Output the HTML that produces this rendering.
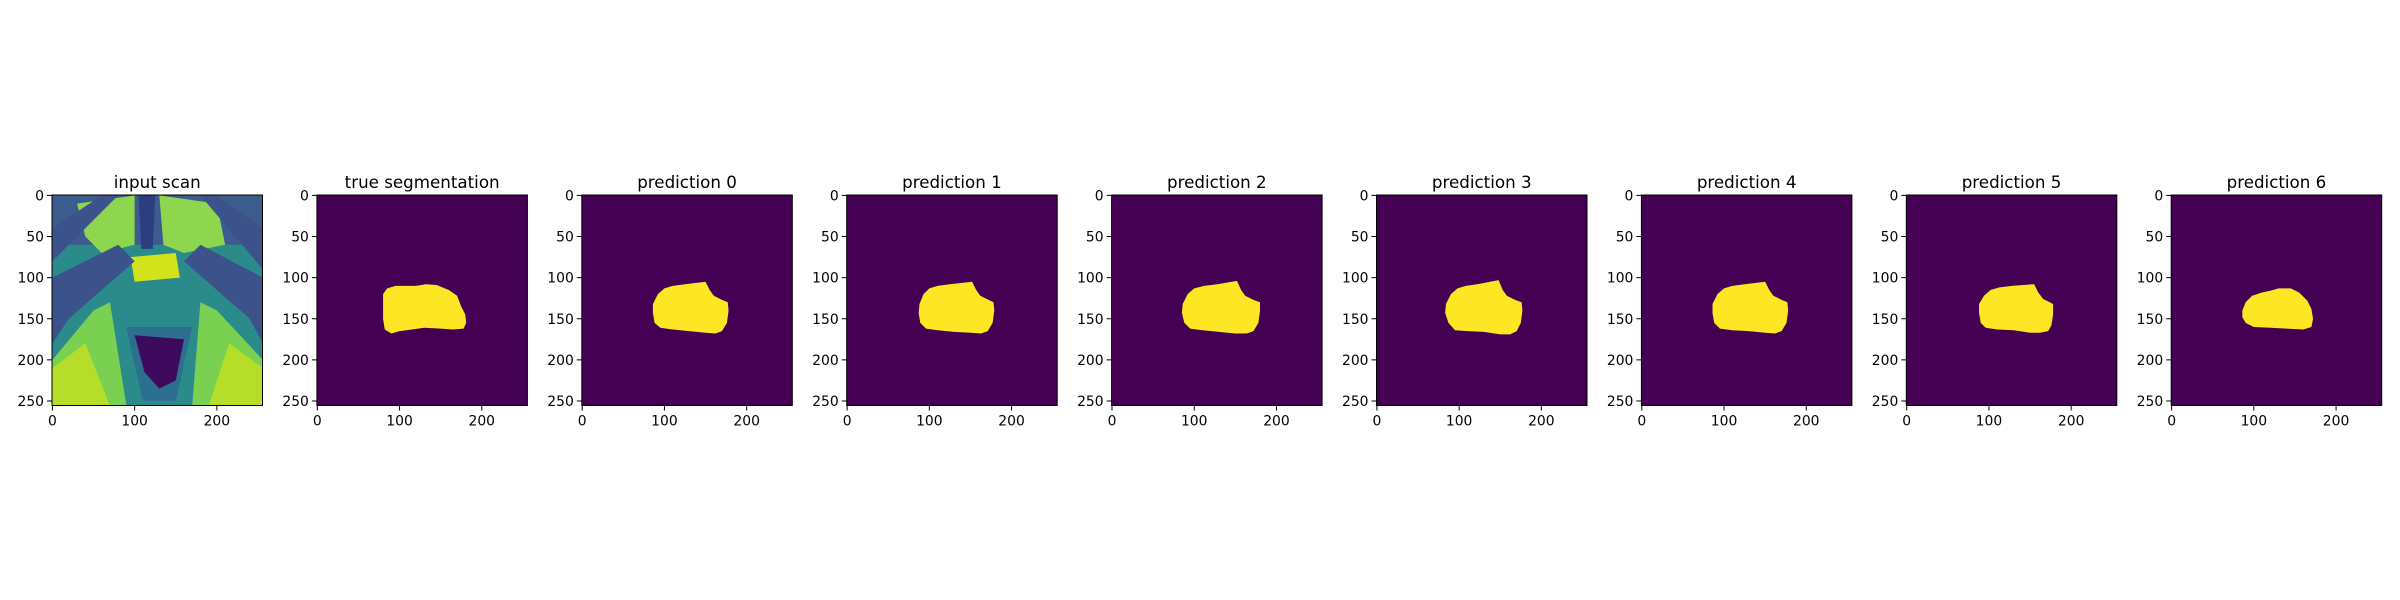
<!DOCTYPE html>
<html><head><meta charset="utf-8"><style>
html,body{margin:0;padding:0;background:#fff;width:2400px;height:600px;overflow:hidden}
svg{display:block;font-family:"DejaVu Sans","Liberation Sans",sans-serif}
</style></head><body>
<svg id="fig" width="2400" height="600" viewBox="0 0 2400 600" xmlns="http://www.w3.org/2000/svg"></svg>
<script>
const titles = ["input scan","true segmentation","prediction 0","prediction 1","prediction 2","prediction 3","prediction 4","prediction 5","prediction 6"];
const xTicks = [0,100,200];
const yTicks = [0,50,100,150,200,250];
const maskTrue = [[80,120],[85,113],[95,110],[120,110],[132,108],[145,109],[160,115],[170,122],[175,135],[180,145],[181,155],[178,162],[165,163],[150,162],[130,161],[115,163],[100,165],[90,168],[82,163],[80,150]];
const mask0 = [[86,132],[92,120],[100,113],[110,110],[125,108],[150,105],[155,115],[160,122],[170,127],[177,130],[178,140],[176,155],[170,165],[162,168],[150,167],[130,165],[110,163],[95,161],[88,155],[86,143]];
const mask1 = [[88,132],[93,120],[100,113],[110,110],[125,108],[152,105],[157,115],[162,122],[172,127],[178,130],[179,140],[177,155],[171,165],[163,168],[150,167],[130,166],[110,164],[96,162],[89,155],[87,143]];
const mask2 = [[86,132],[92,120],[100,113],[112,110],[128,108],[152,104],[157,115],[162,122],[172,127],[180,130],[180,140],[178,155],[172,165],[164,168],[150,168],[130,166],[110,164],[95,162],[88,155],[85,143]];
const mask3 = [[84,132],[90,120],[98,113],[108,110],[122,108],[148,103],[153,115],[158,122],[168,127],[176,130],[177,140],[175,155],[170,165],[162,169],[150,169],[130,166],[110,165],[95,164],[87,155],[83,143]];
const mask4 = [[86,132],[92,120],[100,113],[110,110],[125,108],[150,105],[155,115],[160,122],[170,127],[177,130],[178,140],[176,155],[170,165],[162,168],[150,167],[130,165],[110,164],[95,162],[88,155],[86,143]];
const mask5 = [[88,132],[94,122],[102,115],[112,112],[128,110],[155,108],[160,118],[166,126],[174,130],[178,132],[178,145],[176,158],[172,165],[162,167],[150,167],[130,164],[110,163],[96,161],[90,155],[88,143]];
const mask6 = [[86,140],[90,130],[98,122],[110,118],[120,116],[130,113],[145,113],[155,118],[165,128],[170,138],[172,150],[170,160],[160,163],[140,162],[120,161],[100,160],[90,155],[86,148]];
const masks = [null, maskTrue, mask0, mask1, mask2, mask3, mask4, mask5, mask6];

const NS = "http://www.w3.org/2000/svg";
const fig = document.getElementById('fig');
const AX0 = 52, AXSTEP = 264.9, AXW = 210.5, AXTOP = 195, AXH = 210.5;
function mk(tag, attrs, parent){const e=document.createElementNS(NS,tag);for(const k in attrs)e.setAttribute(k,attrs[k]);(parent||fig).appendChild(e);return e;}

titles.forEach((t,i)=>{
  const L = AX0 + i*AXSTEP;
  const sx = v => L + (v+0.5)/256*AXW;
  const sy = v => AXTOP + (v+0.5)/256*AXH;
  const g = mk('g',{});
  
  
  const bg = mk('rect',{x:L,y:AXTOP,width:AXW,height:AXH,fill:i===0?'#2b8a8a':'#440154'},g);
  
  
  if(i===0){
    const shapes = [
      ['#3b5c8c',[[0,0],[256,0],[256,60],[0,60]]],
      ['#8fd64f',[[30,10],[100,0],[100,60],[60,70],[40,50]]],
      ['#8fd64f',[[130,0],[200,10],[210,60],[160,70],[135,60]]],
      ['#3b528b',[[0,40],[60,0],[80,0],[0,80]]],
      ['#3b528b',[[256,40],[200,0],[180,0],[256,90]]],
      ['#2c3e7f',[[105,0],[125,0],[122,65],[108,65]]],
      ['#d2e21b',[[95,75],[150,70],[155,100],[100,105]]],
      ['#3b528b',[[0,100],[80,60],[100,80],[20,150],[0,180]]],
      ['#3b528b',[[256,100],[180,60],[160,80],[240,150],[256,180]]],
      ['#7ad151',[[0,256],[0,200],[50,140],[70,130],[90,256]]],
      ['#7ad151',[[256,256],[256,200],[200,140],[180,130],[170,256]]],
      ['#b5de2b',[[0,256],[0,210],[40,180],[70,256]]],
      ['#b5de2b',[[256,256],[256,210],[215,180],[190,256]]],
      ['#2d6f8e',[[90,160],[170,160],[150,250],[110,250]]],
      ['#3e0a5e',[[100,170],[160,175],[150,225],[130,235],[112,215]]]
    ];
    shapes.forEach(([c,pts])=>{
      const p = mk('polygon',{points:pts.map(q=>sx(q[0])+','+sy(q[1])).join(' '),fill:c},g);
      
      
    });
  } else {
    const p = mk('polygon',{points:masks[i].map(q=>sx(q[0])+','+sy(q[1])).join(' '),fill:'#fde725'},g);
    
    
  }
  const fr = mk('rect',{x:L,y:AXTOP,width:AXW,height:AXH,fill:'none',stroke:'#000','stroke-width':1},g);
  
  
  const tt = mk('text',{x:L+AXW/2,y:AXTOP-7,'text-anchor':'middle','font-size':'16.7px',fill:'#000'},g);
  tt.textContent = t;
  
  
  xTicks.forEach(v=>{
    mk('line',{x1:sx(v),x2:sx(v),y1:AXTOP+AXH,y2:AXTOP+AXH+5,stroke:'#000','stroke-width':1},g);
    const tx = mk('text',{x:sx(v),y:AXTOP+AXH+20,'text-anchor':'middle','font-size':'13.9px',fill:'#000'},g);
    tx.textContent = v;
    
    
  });
  yTicks.forEach(v=>{
    mk('line',{x1:L-5,x2:L,y1:sy(v),y2:sy(v),stroke:'#000','stroke-width':1},g);
    const ty = mk('text',{x:L-8,y:sy(v)+5,'text-anchor':'end','font-size':'13.9px',fill:'#000'},g);
    ty.textContent = v;
    
    
  });
});
</script>
</body></html>
